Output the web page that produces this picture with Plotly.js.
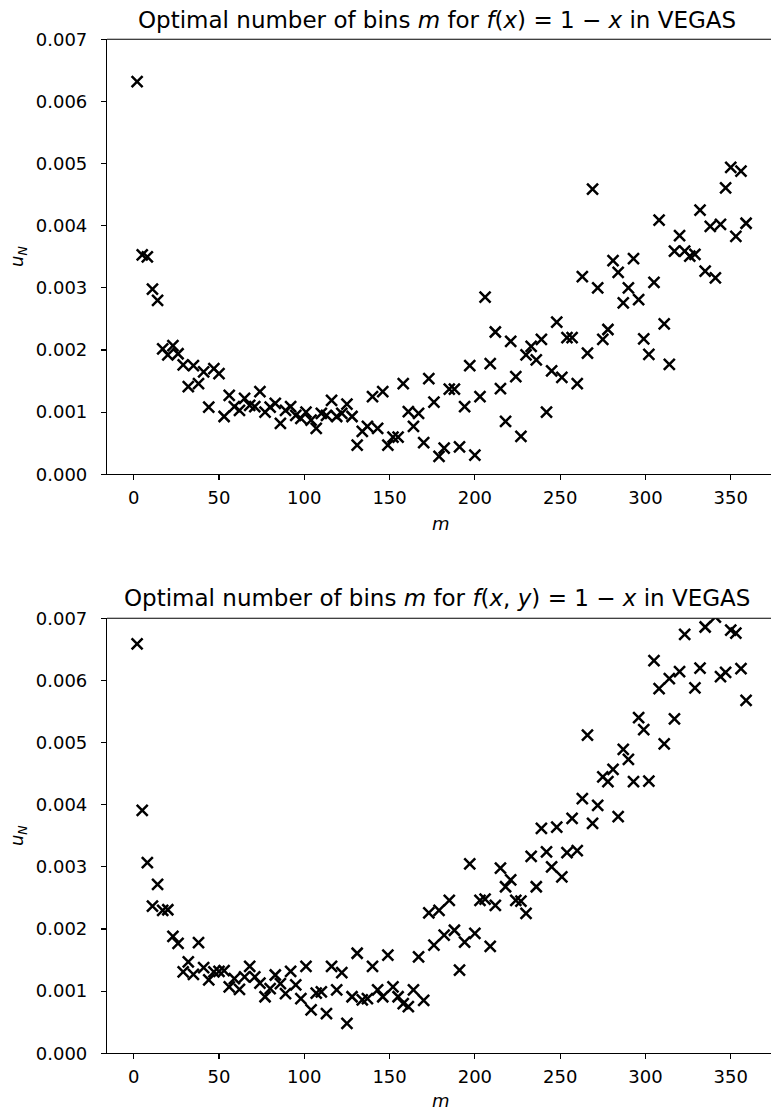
<!DOCTYPE html>
<html>
<head>
<meta charset="utf-8">
<script src="https://cdn.plot.ly/plotly-3.0.1.min.js"></script>
<style>html,body{margin:0;padding:0;background:#fff;}#chart{width:771px;height:1115px;}</style>
</head>
<body>
<div id="chart"></div>
<script>
// number of bins m (same for both panels)
const m = [2,5,8,11,14,17,20,23,26,29,32,35,38,41,44,47,50,53,56,59,62,65,68,71,74,77,80,83,86,89,
  92,95,98,101,104,107,110,113,116,119,122,125,128,131,134,137,140,143,146,149,152,155,158,161,164,167,170,173,176,179,
  182,185,188,191,194,197,200,203,206,209,212,215,218,221,224,227,230,233,236,239,242,245,248,251,254,257,260,263,266,269,
  272,275,278,281,284,287,290,293,296,299,302,305,308,311,314,317,320,323,326,329,332,335,338,341,344,347,350,353,356,359];

// u_N for f(x) = 1 - x
const uN_1d = [0.00632,0.00353,0.00350,0.00298,0.00280,0.00202,0.00192,0.00207,0.00194,0.00176,0.00141,0.00175,0.00146,0.00165,0.00108,0.00170,0.00162,0.00093,0.00127,0.00109,
  0.00103,0.00122,0.00111,0.00109,0.00133,0.00100,0.00108,0.00114,0.00082,0.00103,0.00109,0.00095,0.00090,0.00100,0.00087,0.00074,0.00098,0.00095,0.00119,0.00093,
  0.00098,0.00113,0.00093,0.00047,0.00069,0.00077,0.00125,0.00074,0.00133,0.00047,0.00060,0.00060,0.00146,0.00101,0.00077,0.00098,0.00051,0.00154,0.00116,0.00029,
  0.00042,0.00137,0.00137,0.00044,0.00109,0.00175,0.00031,0.00125,0.00285,0.00178,0.00229,0.00138,0.00085,0.00214,0.00157,0.00061,0.00192,0.00206,0.00184,0.00217,
  0.00100,0.001665,0.00245,0.00156,0.00220,0.00220,0.00146,0.00318,0.00195,0.00459,0.00300,0.00217,0.00233,0.00344,0.00325,0.00276,0.00300,0.00347,0.00281,0.00218,
  0.00193,0.00309,0.00409,0.00242,0.00177,0.00359,0.00384,0.00359,0.00351,0.00354,0.00425,0.00327,0.00399,0.00316,0.00402,0.00461,0.00494,0.00383,0.00488,0.00404];

// u_N for f(x, y) = 1 - x
const uN_2d = [0.00659,0.00391,0.00307,0.00237,0.00272,0.00230,0.00231,0.00188,0.00177,0.00131,0.00147,0.00127,0.00178,0.00138,0.00118,0.00131,0.00132,0.00133,0.00107,0.00120,
  0.00103,0.00123,0.00140,0.00123,0.00113,0.00091,0.00104,0.00126,0.00112,0.00096,0.00132,0.00110,0.00088,0.00140,0.00070,0.00097,0.00099,0.00064,0.00140,0.00102,
  0.00130,0.00048,0.00091,0.00161,0.00086,0.00088,0.00140,0.00102,0.00091,0.00158,0.00107,0.00091,0.00080,0.00075,0.00102,0.00155,0.00085,0.00226,0.00174,0.00230,
  0.00190,0.00246,0.00198,0.00134,0.00179,0.00305,0.00193,0.00246,0.00248,0.00172,0.00238,0.00298,0.00268,0.00279,0.00246,0.00245,0.00225,0.00317,0.00268,0.00362,
  0.00324,0.00300,0.00364,0.00284,0.00323,0.00378,0.00326,0.00410,0.00512,0.00370,0.00399,0.00445,0.00437,0.00457,0.00381,0.00489,0.00473,0.00437,0.00540,0.00521,
  0.00438,0.00632,0.00587,0.00498,0.00603,0.00538,0.00614,0.00674,0.00720,0.00588,0.00620,0.00686,0.00730,0.00702,0.00606,0.00613,0.00681,0.00676,0.00619,0.00568];

const xTicks = [0,50,100,150,200,250,300,350];
const yTicks = [0,0.001,0.002,0.003,0.004,0.005,0.006,0.007];

const FONT = 'DejaVu Sans, sans-serif';
const marker = {symbol:'x-thin', size:11, color:'black', line:{width:2.5, color:'black'}};

const traces = [
  {x:m, y:uN_1d, type:'scatter', mode:'markers', marker:marker, xaxis:'x', yaxis:'y', hoverinfo:'skip'},
  {x:m, y:uN_2d, type:'scatter', mode:'markers', marker:marker, xaxis:'x2', yaxis:'y2', hoverinfo:'skip'}
];

function xax(anchor){
  return {anchor:anchor, domain:[0,1], range:[-15.65,373.6], tickvals:xTicks, ticktext:xTicks.map(String),
    showgrid:false, zeroline:false, showline:true, linecolor:'black', linewidth:1.1,
    ticks:'outside', ticklen:5, tickwidth:1.1, tickcolor:'black', ticklabelstandoff:2,
    tickfont:{family:FONT, size:18, color:'black'}};
}
function yax(anchor, dom){
  return {anchor:anchor, domain:dom, range:[0,0.007], tickvals:yTicks, ticktext:yTicks.map(v=>v.toFixed(3)),
    showgrid:false, zeroline:false, showline:true, linecolor:'black', linewidth:1.1,
    ticks:'outside', ticklen:5, tickwidth:1.1, tickcolor:'black', ticklabelstandoff:10,
    tickfont:{family:FONT, size:18, color:'black'}};
}

const topDom = [0.57462, 0.96475];
const botDom = [0.05534, 0.44547];

const ann = (text, x, y, size, extra) => Object.assign({text:text, xref:'paper', yref:'paper', x:x, y:y,
  xanchor:'center', yanchor:'middle', showarrow:false, font:{family:FONT, size:size, color:'black'}}, extra||{});

const layout = {
  width:771, height:1115,
  margin:{l:107, r:0, t:0, b:0},
  paper_bgcolor:'white', plot_bgcolor:'white',
  showlegend:false,
  xaxis:xax('y'), yaxis:yax('x', topDom),
  xaxis2:xax('y2'), yaxis2:yax('x2', botDom),
  shapes:[
    {type:'line', xref:'paper', yref:'paper', x0:0, x1:1, y0:topDom[1], y1:topDom[1], line:{color:'black', width:1.1}},
    {type:'line', xref:'paper', yref:'paper', x0:0, x1:1, y0:botDom[1], y1:botDom[1], line:{color:'black', width:1.1}}
  ],
  annotations:[
    ann('Optimal number of bins <i>m</i> for <i>f</i>(<i>x</i>) = 1 − <i>x</i> in VEGAS', 0.497, 0.9821, 23),
    ann('Optimal number of bins <i>m</i> for <i>f</i>(<i>x</i>, <i>y</i>) = 1 − <i>x</i> in VEGAS', 0.497, 0.4637, 23),
    ann('<i>m</i>', 0.503, 0.5309, 18),
    ann('<i>m</i>', 0.503, 0.01256, 18),
    ann('<i>u<sub>N</sub></i>', -0.134, 0.7695, 18, {textangle:-90}),
    ann('<i>u<sub>N</sub></i>', -0.134, 0.2502, 18, {textangle:-90})
  ]
};

Plotly.newPlot('chart', traces, layout, {staticPlot:true, displayModeBar:false});
</script>
</body>
</html>
